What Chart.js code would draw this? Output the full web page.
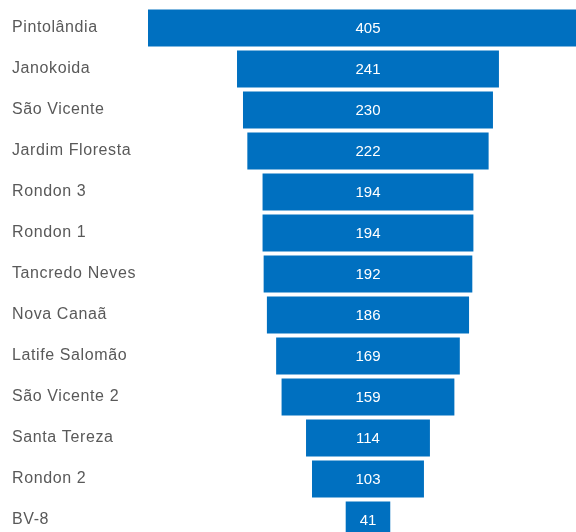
<!DOCTYPE html>
<html>
<head>
<meta charset="utf-8">
<script src="https://cdn.jsdelivr.net/npm/chart.js@4/dist/chart.umd.min.js"></script>
<style>
  html, body { margin: 0; padding: 0; background: #fff; overflow: hidden; }
  #wrap { width: 576px; height: 532px; overflow: hidden; }
  #wrap canvas { display: block; }
</style>
</head>
<body>
<div id="wrap"><canvas id="c" width="576" height="541"></canvas></div>
<script>
// Bairros e quantidades (funil)
const categories = [
  'Pintolândia', 'Janokoida', 'São Vicente', 'Jardim Floresta', 'Rondon 3',
  'Rondon 1', 'Tancredo Neves', 'Nova Canaã', 'Latife Salomão', 'São Vicente 2',
  'Santa Tereza', 'Rondon 2', 'BV-8'
];
const values = [405, 241, 230, 222, 194, 194, 192, 186, 169, 159, 114, 103, 41];

// Each bar is centred on zero: [-v/2, v/2]
const funnelData = values.map(v => [-v / 2, v / 2]);

// Slightly looser tracking for the category names
const labelSpacing = {
  id: 'labelSpacing',
  beforeDraw(chart) { chart.ctx.letterSpacing = '0.6px'; },
  beforeDatasetsDraw(chart) { chart.ctx.letterSpacing = '0px'; }
};

// Writes the value in the middle of each bar
const valueLabels = {
  id: 'valueLabels',
  afterDatasetsDraw(chart) {
    const ctx = chart.ctx;
    const meta = chart.getDatasetMeta(0);
    const cx = chart.scales.x.getPixelForValue(0);
    ctx.save();
    ctx.fillStyle = '#ffffff';
    ctx.font = '15px "Liberation Sans", Arial, sans-serif';
    ctx.textAlign = 'center';
    ctx.textBaseline = 'middle';
    meta.data.forEach((bar, i) => {
      ctx.fillText(String(values[i]), cx, bar.y + 1);
    });
    ctx.restore();
  }
};

new Chart(document.getElementById('c'), {
  type: 'bar',
  data: {
    labels: categories,
    datasets: [{
      data: funnelData,
      backgroundColor: '#0070C0',
      borderWidth: 0,
      barPercentage: 37 / 41,
      categoryPercentage: 1.0
    }]
  },
  options: {
    indexAxis: 'y',
    responsive: false,
    animation: false,
    layout: { padding: { left: 12, right: 0, top: 7.5, bottom: 0.5 } },
    plugins: {
      legend: { display: false },
      tooltip: { enabled: false }
    },
    scales: {
      x: {
        display: false,
        min: -202.4,
        max: 191.4
      },
      y: {
        grid: { display: false, drawTicks: false },
        border: { display: false },
        ticks: {
          crossAlign: 'far',
          color: '#595959',
          padding: 0,
          font: { family: '"Liberation Sans", Arial, sans-serif', size: 16 }
        },
        afterFit(scale) {
          scale.width = 136;
          scale.paddingTop = 0;
          scale.paddingBottom = 0;
        }
      }
    }
  },
  plugins: [labelSpacing, valueLabels]
});
</script>
</body>
</html>
